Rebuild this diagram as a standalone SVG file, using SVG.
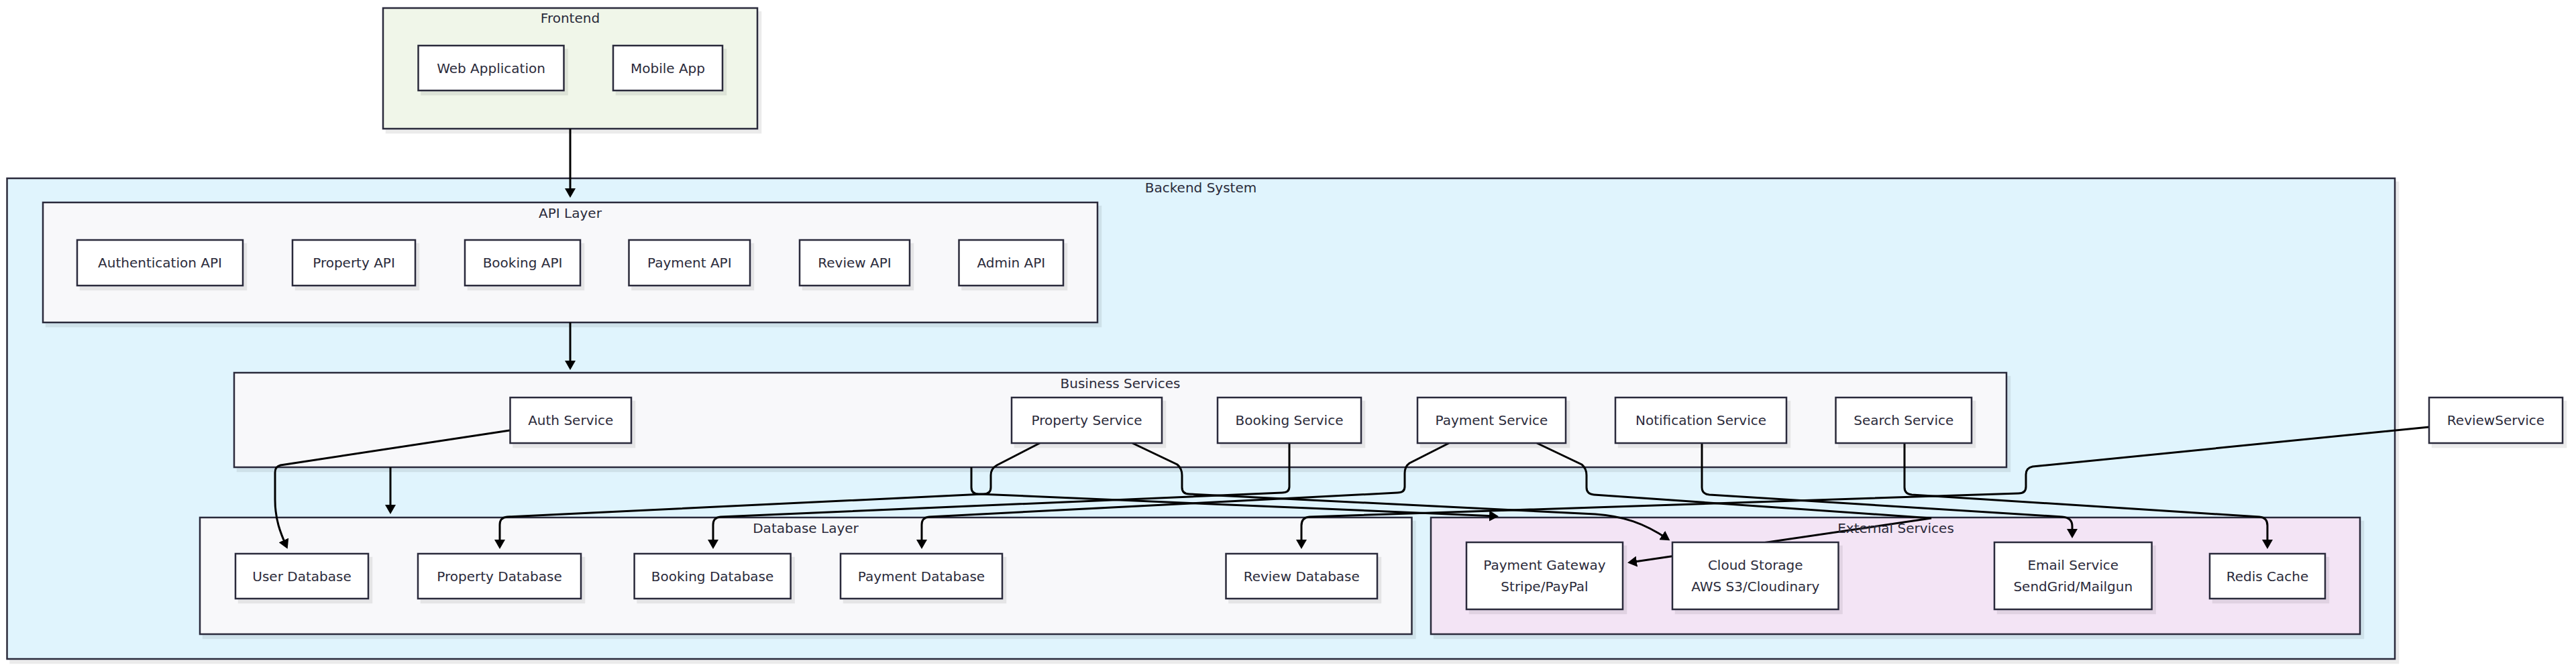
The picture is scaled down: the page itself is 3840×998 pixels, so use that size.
<svg xmlns="http://www.w3.org/2000/svg" width="3840" height="998" viewBox="0 0 3840 998">
<style>
.cl{stroke:#2b2b3b;stroke-width:2.5}
.nd{fill:#ffffff;stroke:#2b2b3b;stroke-width:2.5}
.t{font-family:"DejaVu Sans",sans-serif;font-size:20px;fill:#2b2b3b;text-anchor:middle;dominant-baseline:central}
.e{fill:none;stroke:#000;stroke-width:3;marker-end:url(#ah)}
</style>
<defs>
<filter id="sh" x="-5%" y="-5%" width="115%" height="130%">
<feDropShadow dx="5" dy="6" stdDeviation="0" flood-color="#000" flood-opacity="0.08"/>
</filter>
<marker id="ah" markerUnits="userSpaceOnUse" markerWidth="15" markerHeight="16" refX="10" refY="8" orient="auto">
<path d="M0,0 L14,8 L0,16 z" fill="#000"/>
</marker>
</defs>
<rect width="3840" height="998" fill="#ffffff"/>

<g id="cluster-frontend">
<rect class="cl" x="571" y="12" width="558" height="180" fill="#f0f6e9" filter="url(#sh)"/>
<text class="t" x="850" y="27">Frontend</text>
</g>
<g id="cluster-backend">
<rect class="cl" x="10.5" y="266" width="3559.5" height="717" fill="#e0f4fd" filter="url(#sh)"/>
<text class="t" x="1790" y="280">Backend System</text>
</g>
<g id="cluster-api">
<rect class="cl" x="64" y="302" width="1572" height="179" fill="#f8f8fa" filter="url(#sh)"/>
<text class="t" x="850" y="318">API Layer</text>
</g>
<g id="cluster-business">
<rect class="cl" x="349" y="556" width="2642" height="141" fill="#f8f8fa" filter="url(#sh)"/>
<text class="t" x="1670" y="572">Business Services</text>
</g>
<g id="cluster-database">
<rect class="cl" x="298" y="772" width="1806.5" height="174" fill="#f8f8fa" filter="url(#sh)"/>
<text class="t" x="1201" y="788">Database Layer</text>
</g>
<g id="cluster-external">
<rect class="cl" x="2133" y="772" width="1385" height="174" fill="#f3e4f5" filter="url(#sh)"/>
</g>

<g id="connectors">
<path class="e" d="M850,192 V291"/>
<path class="e" d="M850,481 V548"/>
<path class="e" d="M582,697 V763"/>
<path class="e" d="M760,642 L418,694 Q410,696 410,705 L410,745 C410,775 418,795 427,815"/>
<path class="e" d="M1550,661 L1486,694 Q1477,699 1477,709 L1477,727 Q1477,737 1466,737 L756,771 Q745,772 745,783 V815"/>
<path class="e" d="M1922,661 V726 Q1922,735 1911,735 L1074,771 Q1063,772 1063,783 V815"/>
<path class="e" d="M2160,661 L2101,691 Q2094,696 2094,706 V726 Q2094,735 2083,735 L1385,771 Q1374,772 1374,783 V815"/>
<path class="e" d="M1688,661 L1755,693 Q1762,699 1762,709 V727 Q1762,737 1773,737 L2378,767 C2420,770 2450,780 2486,804"/>
<path class="e" d="M2291,661 L2358,693 Q2365,699 2365,709 V727 Q2365,737 2376,738 L2879,773 L2430,839"/>
<path class="e" d="M2537,661 V727 Q2537,737 2548,738 L3074,771 Q3089,772 3089,785 V799"/>
<path class="e" d="M2839,661 V727 Q2839,737 2850,738 L3368,771 Q3380,772 3380,784 V815"/>
<path class="e" d="M3621,637 L3030,696 Q3020,698 3020,708 V726 Q3020,736 3009,736 L1952,771 Q1940,772 1940,784 V815"/>
<path class="e" d="M1448,697 V727 Q1448,737 1459,737 L2230,770"/>
</g>

<g id="cluster-external-label">
<text class="t" x="2826" y="788">External Services</text>
</g>

<g id="web-app"><rect class="nd" x="623.5" y="68" width="217" height="67" filter="url(#sh)"/><text class="t" x="732" y="101.5">Web Application</text></g>
<g id="mobile-app"><rect class="nd" x="914" y="68" width="163" height="67" filter="url(#sh)"/><text class="t" x="995.5" y="101.5">Mobile App</text></g>

<g id="auth-api"><rect class="nd" x="115" y="358" width="247" height="68" filter="url(#sh)"/><text class="t" x="238.5" y="392">Authentication API</text></g>
<g id="property-api"><rect class="nd" x="436" y="358" width="183" height="68" filter="url(#sh)"/><text class="t" x="527.5" y="392">Property API</text></g>
<g id="booking-api"><rect class="nd" x="693" y="358" width="172" height="68" filter="url(#sh)"/><text class="t" x="779" y="392">Booking API</text></g>
<g id="payment-api"><rect class="nd" x="937.5" y="358" width="180.5" height="68" filter="url(#sh)"/><text class="t" x="1027.75" y="392">Payment API</text></g>
<g id="review-api"><rect class="nd" x="1192" y="358" width="164" height="68" filter="url(#sh)"/><text class="t" x="1274" y="392">Review API</text></g>
<g id="admin-api"><rect class="nd" x="1429.5" y="358" width="155.5" height="68" filter="url(#sh)"/><text class="t" x="1507.25" y="392">Admin API</text></g>

<g id="auth-service"><rect class="nd" x="760.5" y="593" width="180.5" height="68" filter="url(#sh)"/><text class="t" x="850.75" y="627">Auth Service</text></g>
<g id="property-service"><rect class="nd" x="1508" y="593" width="224" height="68" filter="url(#sh)"/><text class="t" x="1620" y="627">Property Service</text></g>
<g id="booking-service"><rect class="nd" x="1815" y="593" width="214" height="68" filter="url(#sh)"/><text class="t" x="1922" y="627">Booking Service</text></g>
<g id="payment-service"><rect class="nd" x="2113" y="593" width="221" height="68" filter="url(#sh)"/><text class="t" x="2223.5" y="627">Payment Service</text></g>
<g id="notification-service"><rect class="nd" x="2408" y="593" width="255" height="68" filter="url(#sh)"/><text class="t" x="2535.5" y="627">Notification Service</text></g>
<g id="search-service"><rect class="nd" x="2736.5" y="593" width="202.5" height="68" filter="url(#sh)"/><text class="t" x="2837.75" y="627">Search Service</text></g>

<g id="user-db"><rect class="nd" x="351" y="826" width="198" height="67" filter="url(#sh)"/><text class="t" x="450" y="859.5">User Database</text></g>
<g id="property-db"><rect class="nd" x="623" y="826" width="243" height="67" filter="url(#sh)"/><text class="t" x="744.5" y="859.5">Property Database</text></g>
<g id="booking-db"><rect class="nd" x="945.6" y="826" width="233" height="67" filter="url(#sh)"/><text class="t" x="1062.1" y="859.5">Booking Database</text></g>
<g id="payment-db"><rect class="nd" x="1253" y="826" width="241" height="67" filter="url(#sh)"/><text class="t" x="1373.5" y="859.5">Payment Database</text></g>
<g id="review-db"><rect class="nd" x="1827.5" y="826" width="225.5" height="67" filter="url(#sh)"/><text class="t" x="1940.25" y="859.5">Review Database</text></g>

<g id="payment-gateway"><rect class="nd" x="2186" y="809" width="233" height="100" filter="url(#sh)"/><text class="t" x="2302.5" y="843">Payment Gateway</text><text class="t" x="2302.5" y="875">Stripe/PayPal</text></g>
<g id="cloud-storage"><rect class="nd" x="2493" y="809" width="247.5" height="100" filter="url(#sh)"/><text class="t" x="2616.75" y="843">Cloud Storage</text><text class="t" x="2616.75" y="875">AWS S3/Cloudinary</text></g>
<g id="email-service"><rect class="nd" x="2973" y="809" width="234.6" height="100" filter="url(#sh)"/><text class="t" x="3090.3" y="843">Email Service</text><text class="t" x="3090.3" y="875">SendGrid/Mailgun</text></g>
<g id="redis-cache"><rect class="nd" x="3294" y="826" width="172" height="67" filter="url(#sh)"/><text class="t" x="3380" y="859.5">Redis Cache</text></g>

<g id="review-service"><rect class="nd" x="3621" y="593" width="199" height="68" filter="url(#sh)"/><text class="t" x="3720.5" y="627">ReviewService</text></g>
</svg>
